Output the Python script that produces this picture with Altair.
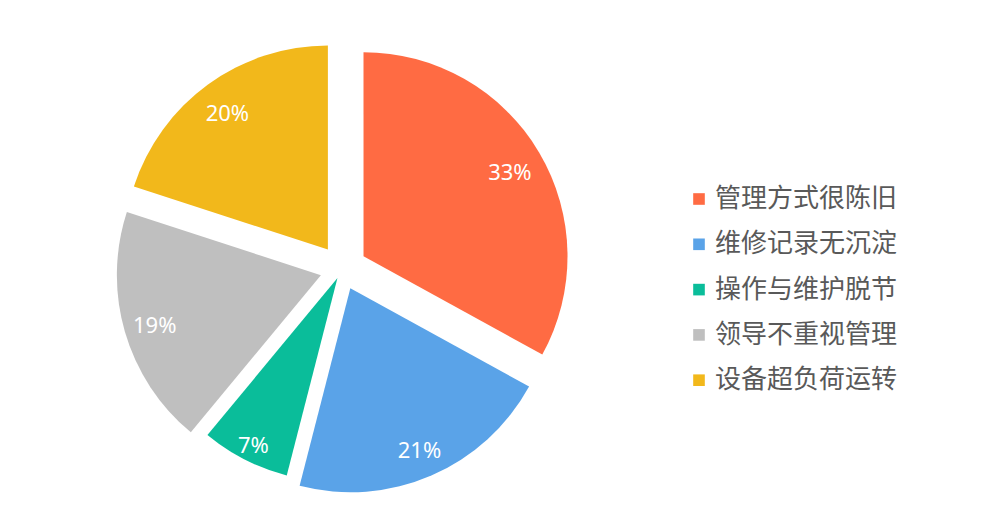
import altair as alt
import pandas as pd

categories = ["管理方式很陈旧", "维修记录无沉淀", "操作与维护脱节", "领导不重视管理", "设备超负荷运转"]
values = [33, 21, 7, 19, 20]
labels = ["33%", "21%", "7%", "19%", "20%"]
colors = ["#FF6B43", "#5AA3E8", "#0ABD9A", "#BFBFBF", "#F2B81B"]
explode_px = [25, 21, 10, 22, 24]  # slice offset (style)

W, H = 976, 504
R = 204
cx, cy = 334, 261
label_r = 195 / R
FONT = "Noto Sans CJK SC"

df = pd.DataFrame({
    "category": categories,
    "value": values,
    "label": labels,
    "order": list(range(len(values))),
    "explode": [e / R for e in explode_px],
})

xs = alt.Scale(domain=[-cx / R, (W - cx) / R])
ys = alt.Scale(domain=[-(H - cy) / R, cy / R])

base = (
    alt.Chart(df)
    .transform_joinaggregate(total="sum(value)")
    .transform_window(cum="sum(value)", sort=[alt.SortField("order")], frame=[None, 0])
    .transform_calculate(start="(datum.cum - datum.value) / datum.total", end="datum.cum / datum.total")
    .transform_calculate(mid="PI * (datum.start + datum.end)")
    .transform_calculate(
        ox="datum.explode * sin(datum.mid)",
        oy="datum.explode * cos(datum.mid)",
        lx=f"{label_r} * sin(datum.mid)",
        ly=f"{label_r} * cos(datum.mid)",
    )
)

arcs = base.mark_arc(radius=R).encode(
    x=alt.X("ox:Q", scale=xs, axis=None),
    y=alt.Y("oy:Q", scale=ys, axis=None),
    theta=alt.Theta("start:Q", scale=alt.Scale(domain=[0, 1], range=[0, 6.283185307179586]), stack=False),
    theta2="end:Q",
    color=alt.Color(
        "category:N",
        scale=alt.Scale(domain=categories, range=colors),
        sort=categories,
        legend=alt.Legend(
            title=None,
            orient="none",
            legendX=678,
            legendY=178,
            symbolType="square",
            symbolSize=135,
            symbolStrokeWidth=0,
            labelFont=FONT,
            labelFontSize=26,
            labelColor="#595959",
            labelOffset=3,
            labelLimit=400,
            rowPadding=19.3,
        ),
    ),
)

text = base.mark_text(color="white", fontSize=22, font="Noto Sans", dy=3).encode(
    x=alt.X("lx:Q", scale=xs, axis=None),
    y=alt.Y("ly:Q", scale=ys, axis=None),
    text="label:N",
)

chart = (
    alt.layer(arcs, text)
    .properties(width=W, height=H, padding=0, autosize=alt.AutoSizeParams(type="none"))
    .configure_view(stroke=None)
)

chart.save("out.html", embed_options={"renderer": "svg", "actions": False})
